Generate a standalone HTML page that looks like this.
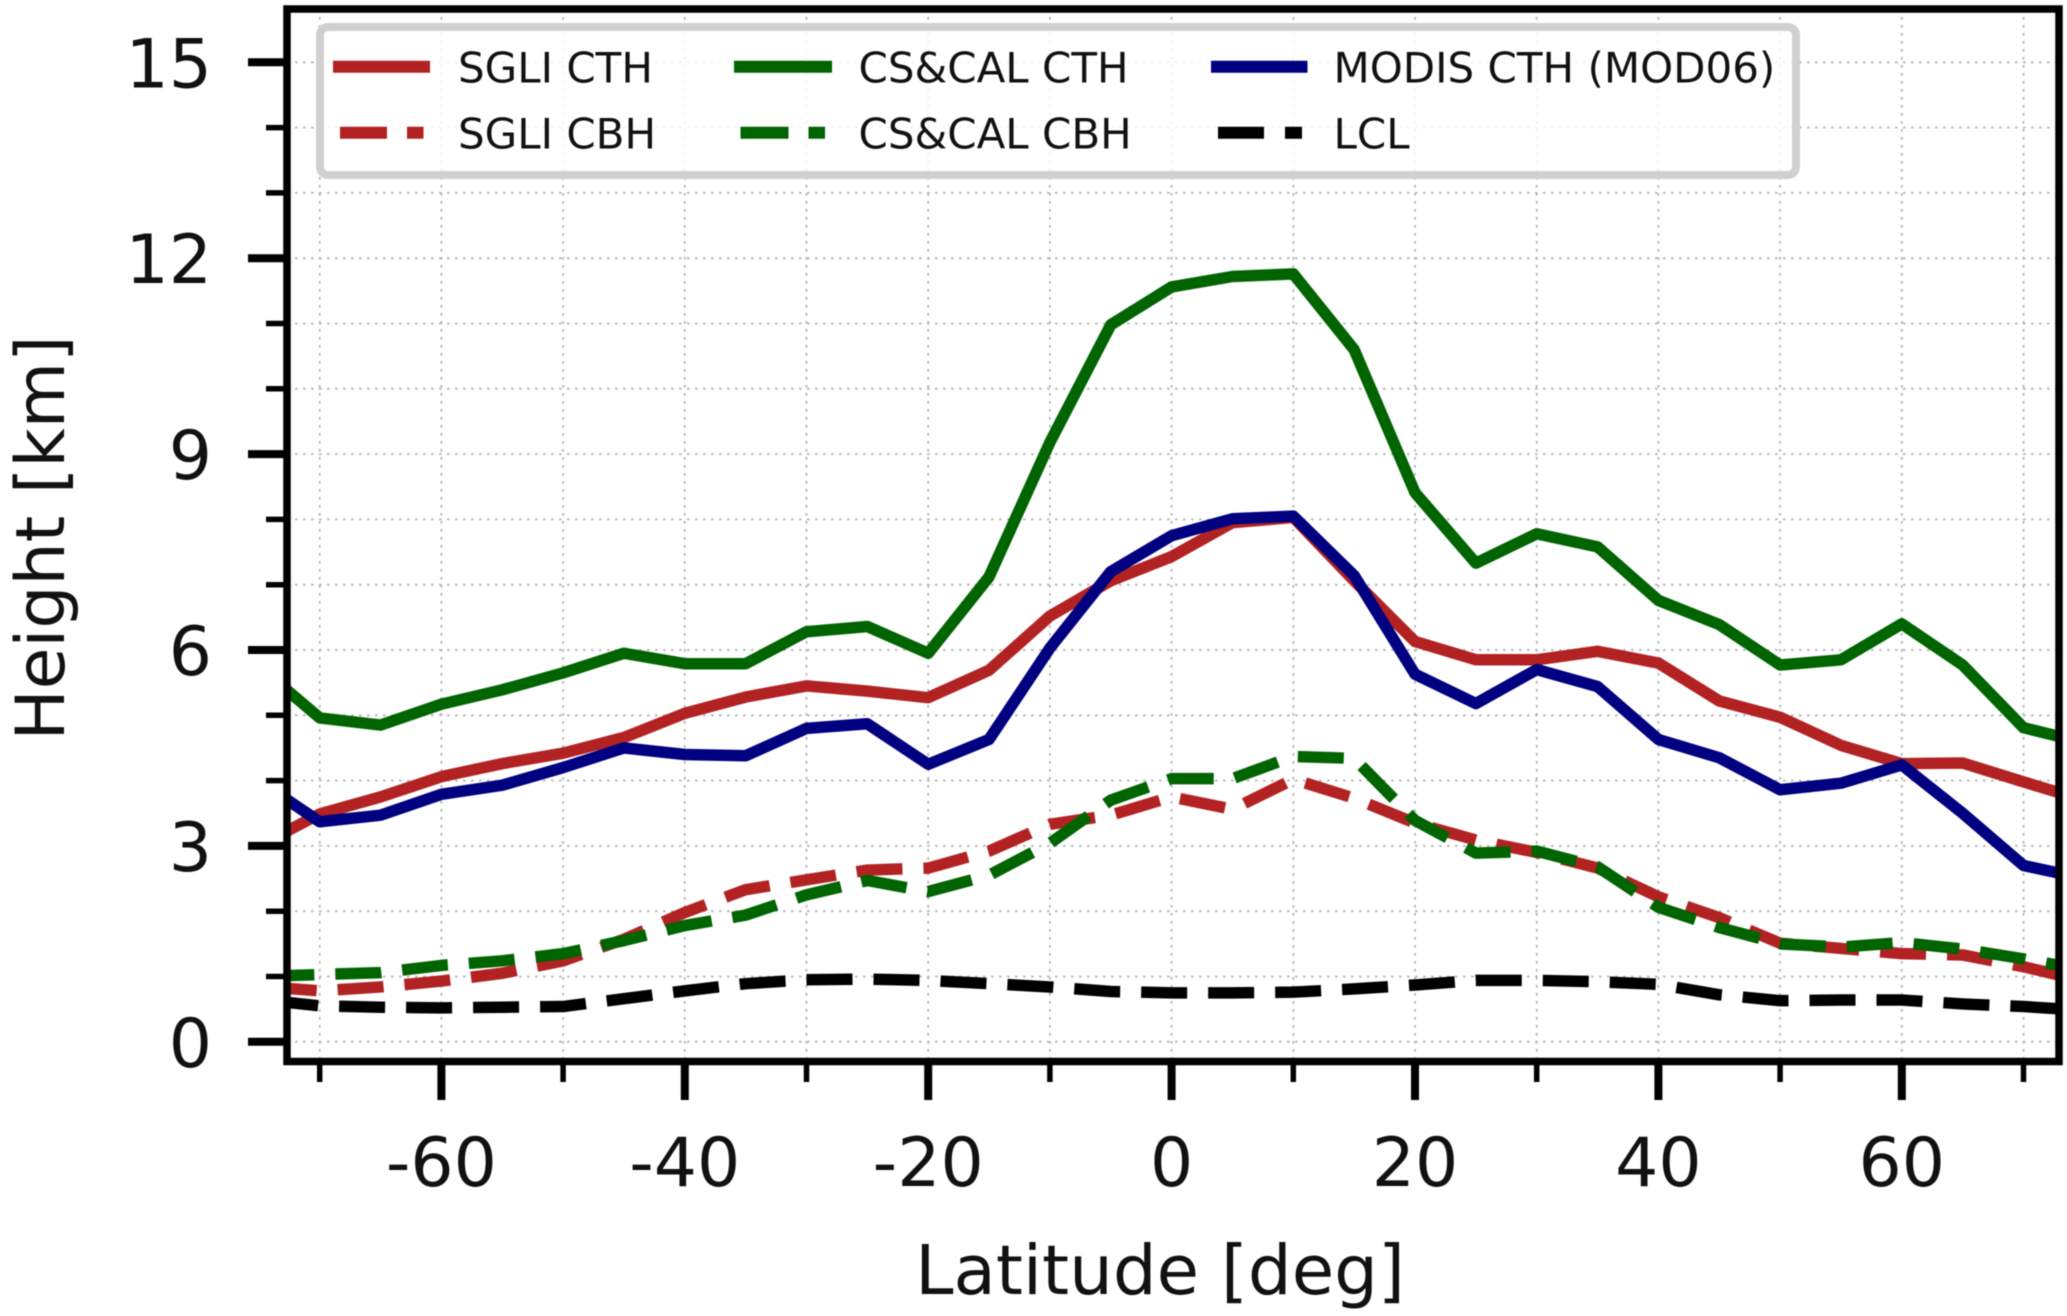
<!DOCTYPE html>
<html lang="en">
<head>
<meta charset="utf-8">
<title>Height vs Latitude</title>
<style>
html,body{margin:0;padding:0;background:#fff;}
svg{display:block;filter:blur(0.6px);}
text{font-family:"DejaVu Sans","Liberation Sans",sans-serif;fill:#111;}
</style>
</head>
<body>
<svg id="chart" xmlns="http://www.w3.org/2000/svg" width="2067" height="1316" viewBox="0 0 2067 1316">
  <defs><clipPath id="plot-clip"><rect x="287" y="9" width="1772" height="1052.5"/></clipPath></defs>
  <g id="grid"></g>
  <g id="series" clip-path="url(#plot-clip)"></g>
  <g id="ticks"></g>
  <rect x="287" y="9" width="1772" height="1052.5" fill="none" stroke="#000" stroke-width="7.5"/>

  <g>
    <rect x="320" y="27" width="1476" height="148" rx="8" ry="8" fill="#fff" fill-opacity="0.82" stroke="#d0d0d0" stroke-width="8"/>
    <line x1="333" y1="66.7" x2="430" y2="66.7" stroke="#b22222" stroke-width="12"/>
    <line x1="340" y1="132.7" x2="423.5" y2="132.7" stroke="#b22222" stroke-width="12" stroke-dasharray="47 20"/>
    <line x1="734" y1="66.7" x2="832" y2="66.7" stroke="#006400" stroke-width="12"/>
    <line x1="740.5" y1="132.7" x2="825" y2="132.7" stroke="#006400" stroke-width="12" stroke-dasharray="48 20"/>
    <line x1="1211" y1="66.7" x2="1307.5" y2="66.7" stroke="#000080" stroke-width="12"/>
    <line x1="1218" y1="132.7" x2="1302" y2="132.7" stroke="#000" stroke-width="12" stroke-dasharray="46 21"/>
    <text x="458" y="82.5" font-size="42">SGLI CTH</text>
    <text x="458" y="148.5" font-size="42">SGLI CBH</text>
    <text x="858.5" y="82.5" font-size="42">CS&amp;CAL CTH</text>
    <text x="858.5" y="148.5" font-size="42">CS&amp;CAL CBH</text>
    <text x="1333.5" y="82.5" font-size="42">MODIS CTH (MOD06)</text>
    <text x="1333.5" y="148.5" font-size="42">LCL</text>
  </g>

  <text x="1160" y="1294" font-size="69" text-anchor="middle">Latitude [deg]</text>
  <text transform="translate(64,538) rotate(-90)" font-size="68" text-anchor="middle">Height [km]</text>
</svg>
<script>
const latitudes = [-75,-70,-65,-60,-55,-50,-45,-40,-35,-30,-25,-20,-15,-10,-5,0,5,10,15,20,25,30,35,40,45,50,55,60,65,70,75];
const sgliCth  = [3.0,3.49,3.75,4.06,4.26,4.42,4.66,5.03,5.28,5.45,5.37,5.27,5.69,6.52,7.06,7.43,7.95,8.03,7.06,6.13,5.85,5.85,5.98,5.8,5.22,4.97,4.54,4.26,4.27,3.98,3.7];
const sgliCbh  = [0.85,0.78,0.84,0.93,1.05,1.24,1.57,1.98,2.33,2.48,2.63,2.66,2.92,3.33,3.47,3.75,3.56,4.02,3.73,3.35,3.09,2.9,2.66,2.22,1.9,1.51,1.43,1.35,1.33,1.15,0.93];
const cscalCth = [5.75,4.96,4.85,5.17,5.39,5.65,5.95,5.79,5.79,6.28,6.36,5.95,7.12,9.18,10.98,11.56,11.72,11.76,10.6,8.41,7.33,7.78,7.58,6.76,6.39,5.77,5.85,6.4,5.77,4.81,4.58];
const cscalCbh = [1.0,1.03,1.06,1.17,1.24,1.35,1.55,1.78,1.94,2.25,2.47,2.3,2.55,3.04,3.7,4.03,4.03,4.37,4.34,3.39,2.89,2.92,2.68,2.06,1.75,1.5,1.45,1.52,1.42,1.27,1.1];
const modisCth = [4.0,3.37,3.47,3.79,3.93,4.2,4.5,4.4,4.38,4.8,4.87,4.25,4.63,6.03,7.2,7.75,8.01,8.05,7.14,5.63,5.18,5.7,5.44,4.63,4.35,3.86,3.96,4.24,3.5,2.7,2.5];
const lclHeight = [0.65,0.55,0.53,0.52,0.53,0.54,0.66,0.78,0.89,0.95,0.96,0.94,0.89,0.84,0.77,0.75,0.75,0.76,0.81,0.87,0.94,0.94,0.92,0.88,0.72,0.63,0.64,0.64,0.58,0.54,0.48];

const xMajorTicks = [-60,-40,-20,0,20,40,60];
const xMinorTicks = [-70,-50,-30,-10,10,30,50,70];
const yMajorTicks = [0,3,6,9,12,15];
const yMinorTicks = [1,2,4,5,7,8,10,11,13,14];

const SVG_NS = 'http://www.w3.org/2000/svg';
function xScale(lat){ return 1171.6 + lat * 12.17; }
function yScale(km){ return 1041.8 - km * 65.3; }
function make(tag, attrs, parent){
  const el = document.createElementNS(SVG_NS, tag);
  for (const k in attrs) el.setAttribute(k, attrs[k]);
  parent.appendChild(el);
  return el;
}
const gridG = document.getElementById('grid');
const ticksG = document.getElementById('ticks');
const seriesG = document.getElementById('series');
const gridStyle = {stroke:'#b4b4b4','stroke-width':1.8,'stroke-dasharray':'2.6 5.4'};

[...xMajorTicks, ...xMinorTicks].forEach(function(v){
  const g = make('line', Object.assign({x1:xScale(v),x2:xScale(v),y1:9,y2:1061.5}, gridStyle), gridG);
  
  
});
[...yMajorTicks, ...yMinorTicks].forEach(function(v){
  const g = make('line', Object.assign({x1:287,x2:2059,y1:yScale(v),y2:yScale(v)}, gridStyle), gridG);
  
  
});
xMajorTicks.forEach(function(v){
  const t = make('line', {x1:xScale(v),x2:xScale(v),y1:1061.5,y2:1100,stroke:'#000','stroke-width':8}, ticksG);
  
  
  const l = make('text', {x:xScale(v),y:1186,'font-size':68,'text-anchor':'middle'}, ticksG);
  l.textContent = String(v);
  
  
});
xMinorTicks.forEach(function(v){
  const t = make('line', {x1:xScale(v),x2:xScale(v),y1:1061.5,y2:1082,stroke:'#000','stroke-width':5.5}, ticksG);
  
  
});
yMajorTicks.forEach(function(v){
  const t = make('line', {x1:248,x2:287,y1:yScale(v),y2:yScale(v),stroke:'#000','stroke-width':8}, ticksG);
  
  
  const l = make('text', {x:212,y:yScale(v)+25,'font-size':68,'text-anchor':'end'}, ticksG);
  l.textContent = String(v);
  
  
});
yMinorTicks.forEach(function(v){
  const t = make('line', {x1:266,x2:287,y1:yScale(v),y2:yScale(v),stroke:'#000','stroke-width':5.5}, ticksG);
  
  
});
function drawSeries(values, color, name, dash, offset){
  const pts = values.map(function(v,i){ return xScale(latitudes[i]) + ',' + yScale(v); }).join(' ');
  const attrs = {points:pts,fill:'none',stroke:color,'stroke-width':11.5,'stroke-linejoin':'round','stroke-linecap':'butt'};
  if (dash) { attrs['stroke-dasharray'] = dash; attrs['stroke-dashoffset'] = offset; }
  const p = make('polyline', attrs, seriesG);
  
  
}
drawSeries(sgliCth, '#b22222', 'series-sgli-cth');
drawSeries(sgliCbh, '#b22222', 'series-sgli-cbh', '46 21', 55);
drawSeries(cscalCth, '#006400', 'series-cscal-cth');
drawSeries(cscalCbh, '#006400', 'series-cscal-cbh', '46 21', 57.5);
drawSeries(modisCth, '#000080', 'series-modis-cth');
drawSeries(lclHeight, '#000000', 'series-lcl', '46 21', 53.4);
</script>
</body>
</html>
